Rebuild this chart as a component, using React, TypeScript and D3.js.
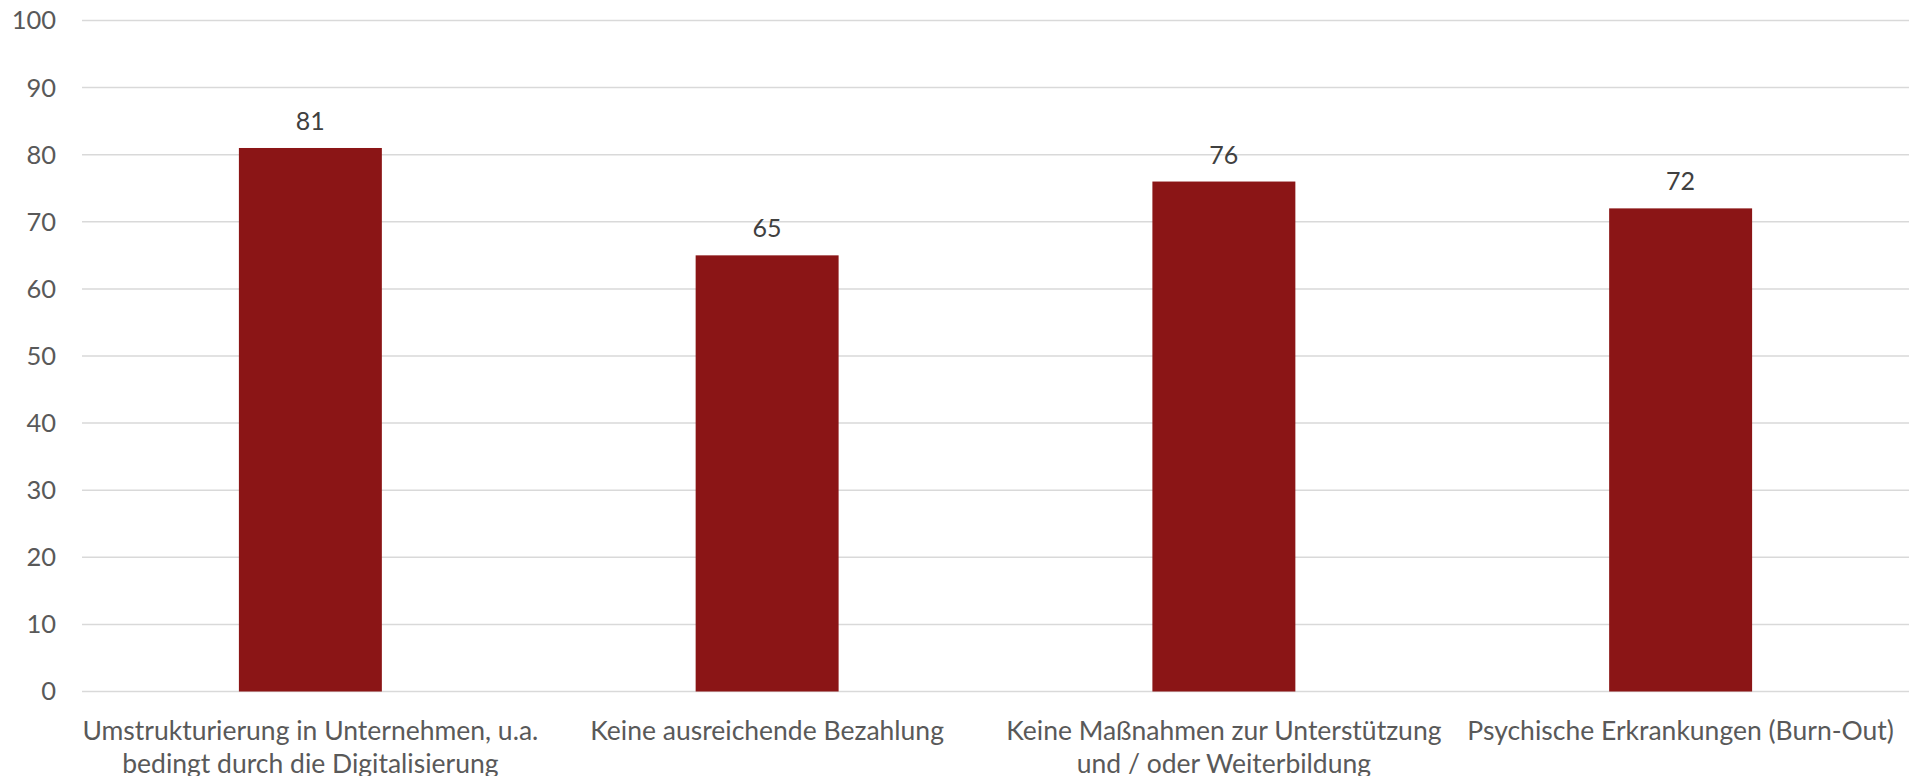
import React, { useEffect } from 'react'
import * as d3 from 'd3'

const categories = [
  'Umstrukturierung in Unternehmen, u.a.\nbedingt durch die Digitalisierung',
  'Keine ausreichende Bezahlung',
  'Keine Maßnahmen zur Unterstützung\nund / oder Weiterbildung',
  'Psychische Erkrankungen (Burn-Out)',
]
const values = [81, 65, 76, 72]
const yTicks = [0, 10, 20, 30, 40, 50, 60, 70, 80, 90, 100]

const width = 1910
const height = 776
const plotLeft = 82
const plotRight = 1909
const plotTop = 20.5
const plotBottom = 691.5
const font = 'Lato, "Open Sans", sans-serif'

const App: React.FC = () => {
  useEffect(() => {
    document.body.style.margin = '0'
  }, [])

  const xScale = d3.scaleBand<string>()
    .domain(categories)
    .range([plotLeft, plotRight])
    .paddingInner(0.687)
    .paddingOuter(0.3435)

  const yScale = d3.scaleLinear().domain([0, 100]).range([plotBottom, plotTop])

  return (
    <svg width={width} height={height} style={{ display: 'block' }}>
      {yTicks.map(t => (
        <g key={t}>
          <line
            x1={plotLeft}
            x2={plotRight}
            y1={yScale(t)}
            y2={yScale(t)}
            stroke="#d9d9d9"
            strokeWidth={1.5}
          />
          <text
            x={56}
            y={yScale(t)}
            dy="0.35em"
            textAnchor="end"
            fontFamily={font}
            fontSize={25.5}
            fill="#595959"
          >
            {t}
          </text>
        </g>
      ))}
      {categories.map((c, i) => {
        const x = xScale(c) as number
        const bw = xScale.bandwidth()
        const v = values[i]
        return (
          <g key={c}>
            <rect
              x={x}
              y={yScale(v)}
              width={bw}
              height={yScale(0) - yScale(v)}
              fill="#8b1516"
            />
            <text
              x={x + bw / 2}
              y={yScale(v) - 18}
              textAnchor="middle"
              fontFamily={font}
              fontSize={25}
              fill="#404040"
            >
              {v}
            </text>
            {c.split('\n').map((line, j) => (
              <text
                key={j}
                x={x + bw / 2}
                y={740 + j * 33}
                textAnchor="middle"
                fontFamily={font}
                fontSize={26.5}
                fill="#595959"
              >
                {line}
              </text>
            ))}
          </g>
        )
      })}
    </svg>
  )
}

export default App
